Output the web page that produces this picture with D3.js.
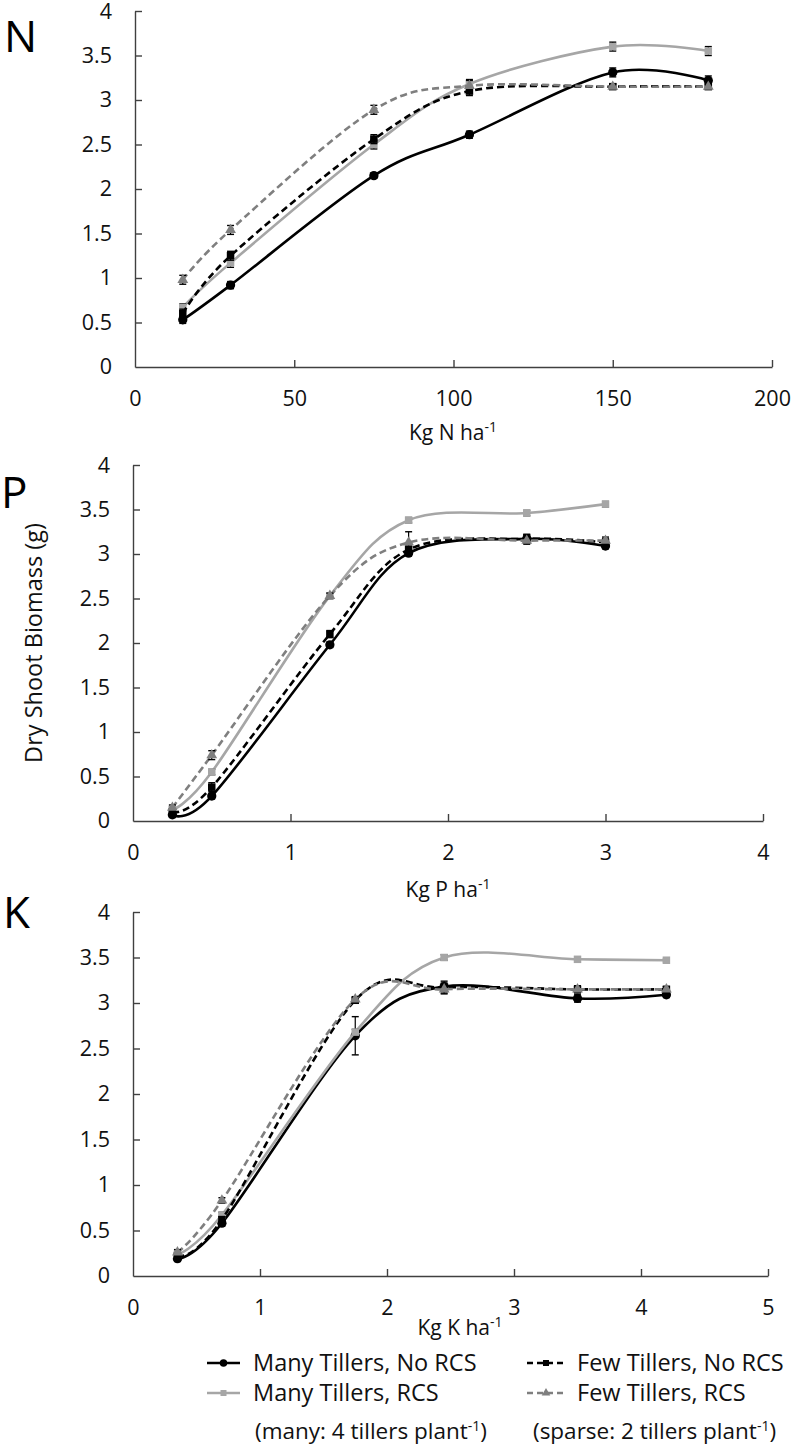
<!DOCTYPE html>
<html>
<head>
<meta charset="utf-8">
<script src="https://cdn.jsdelivr.net/npm/d3@7"></script>
<style>
  body { margin: 0; background: #fff; }
  svg { display: block; font-family: "Open Sans", Lato, sans-serif; }
</style>
</head>
<body>
<svg id="chart" width="793" height="1448"></svg>
<script>
// ---------- DATA ----------
const seriesNames = ["Many Tillers, No RCS", "Many Tillers, RCS", "Few Tillers, No RCS", "Few Tillers, RCS"];

// Panel N
const nX = [15, 30, 75, 105, 150, 180];
const nManyNoRCS = [0.53, 0.92, 2.15, 2.61, 3.31, 3.22];
const nManyRCS   = [0.67, 1.17, 2.50, 3.18, 3.60, 3.55];
const nFewNoRCS  = [0.60, 1.25, 2.56, 3.10, 3.15, 3.15];
const nFewRCS    = [0.98, 1.54, 2.89, 3.16, 3.15, 3.15];
const nErrManyNoRCS = [0.04, 0.04, 0.03, 0.04, 0.05, 0.05];
const nErrManyRCS   = [0.04, 0.05, 0.05, 0.05, 0.05, 0.05];
const nErrFewNoRCS  = [0.05, 0.05, 0.05, 0.05, 0.03, 0.03];
const nErrFewRCS    = [0.05, 0.05, 0.05, 0.06, 0.03, 0.03];

// Panel P
const pX = [0.25, 0.5, 1.25, 1.75, 2.5, 3];
const pManyNoRCS = [0.07, 0.28, 1.98, 3.01, 3.17, 3.09];
const pManyRCS   = [0.13, 0.55, 2.53, 3.38, 3.46, 3.56];
const pFewNoRCS  = [0.10, 0.38, 2.10, 3.05, 3.17, 3.13];
const pFewRCS    = [0.15, 0.74, 2.53, 3.13, 3.15, 3.15];
const pErrManyNoRCS = [0.03, 0.03, 0.03, 0.03, 0.05, 0.03];
const pErrManyRCS   = [0.03, 0.03, 0.03, 0.03, 0.03, 0.03];
const pErrFewNoRCS  = [0.03, 0.05, 0.04, 0.04, 0.05, 0.04];
const pErrFewRCS    = [0.03, 0.05, 0.03, 0.12, 0.04, 0.04];

// Panel K
const kX = [0.35, 0.7, 1.75, 2.45, 3.5, 4.2];
const kManyNoRCS = [0.19, 0.58, 2.64, 3.18, 3.05, 3.09];
const kManyRCS   = [0.24, 0.67, 2.68, 3.50, 3.48, 3.47];
const kFewNoRCS  = [0.22, 0.62, 3.03, 3.17, 3.15, 3.15];
const kFewRCS    = [0.26, 0.83, 3.04, 3.15, 3.15, 3.15];
const kErrManyNoRCS = [0.03, 0.03, 0.21, 0.04, 0.04, 0.03];
const kErrManyRCS   = [0.03, 0.03, 0.03, 0.03, 0.02, 0.02];
const kErrFewNoRCS  = [0.03, 0.03, 0.03, 0.07, 0.04, 0.03];
const kErrFewRCS    = [0.03, 0.03, 0.03, 0.04, 0.03, 0.03];

const yTicks = [0, 0.5, 1, 1.5, 2, 2.5, 3, 3.5, 4];
const nTicks = [0, 50, 100, 150, 200];
const pTicks = [0, 1, 2, 3, 4];
const kTicks = [0, 1, 2, 3, 4, 5];

// ---------- STYLES ----------
const styles = [
  { color: "#000000", dash: null,  marker: "circle" },
  { color: "#a6a6a6", dash: null,  marker: "square" },
  { color: "#000000", dash: "7,4", marker: "square" },
  { color: "#7f7f7f", dash: "7,4", marker: "triangle" }
];

const svg = d3.select("#chart");
const FONT = 21.5;

const panels = [
  { letter: "N", lx: 4, ly: 52, xDomain: [0, 200], xTicks: nTicks, xRange: [135, 772], yRange: [367, 11],
    xs: nX, ys: [nManyNoRCS, nManyRCS, nFewNoRCS, nFewRCS], errs: [nErrManyNoRCS, nErrManyRCS, nErrFewNoRCS, nErrFewRCS],
    title: "Kg N ha", tx: 453, ty: 440 },
  { letter: "P", lx: 1, ly: 508, xDomain: [0, 4], xTicks: pTicks, xRange: [133, 763], yRange: [821, 465],
    xs: pX, ys: [pManyNoRCS, pManyRCS, pFewNoRCS, pFewRCS], errs: [pErrManyNoRCS, pErrManyRCS, pErrFewNoRCS, pErrFewRCS],
    title: "Kg P ha", tx: 448, ty: 897 },
  { letter: "K", lx: 3, ly: 928, xDomain: [0, 5], xTicks: kTicks, xRange: [133, 768], yRange: [1276, 912],
    xs: kX, ys: [kManyNoRCS, kManyRCS, kFewNoRCS, kFewRCS], errs: [kErrManyNoRCS, kErrManyRCS, kErrFewNoRCS, kErrFewRCS],
    title: "Kg K ha", tx: 460, ty: 1335 }
];

function drawMarker(g, type, cx, cy, color, size) {
  if (type === "circle") {
    g.append("circle").attr("cx", cx).attr("cy", cy).attr("r", size * 0.62).attr("fill", color);
  } else if (type === "square") {
    g.append("rect").attr("x", cx - size / 2).attr("y", cy - size / 2).attr("width", size).attr("height", size).attr("fill", color);
  } else {
    const s = d3.symbol().type(d3.symbolTriangle).size(size * size * 0.9);
    g.append("path").attr("transform", `translate(${cx},${cy})`).attr("d", s()).attr("fill", color);
  }
}

panels.forEach(p => {
  const x = d3.scaleLinear().domain(p.xDomain).range(p.xRange);
  const y = d3.scaleLinear().domain([0, 4]).range(p.yRange);
  const g = svg.append("g");

  const yAxis = d3.axisLeft(y).tickValues(yTicks).tickFormat(d3.format("~g"))
    .tickSizeInner(-7).tickSizeOuter(0).tickPadding(23);
  const xAxis = d3.axisBottom(x).tickValues(p.xTicks).tickFormat(d3.format("~g"))
    .tickSizeInner(-7).tickSizeOuter(0).tickPadding(24);

  const ya = g.append("g").attr("transform", `translate(${p.xRange[0]},0)`).call(yAxis);
  const xa = g.append("g").attr("transform", `translate(0,${p.yRange[0]})`).call(xAxis);
  [ya, xa].forEach(a => {
    a.selectAll("path.domain").attr("stroke", "#404040").attr("stroke-width", 1.4);
    a.selectAll(".tick line").attr("stroke", "#404040").attr("stroke-width", 1.4);
    a.selectAll(".tick text").attr("font-size", FONT).attr("fill", "#111").attr("font-family", "'Open Sans', sans-serif");
  });
  ya.selectAll(".tick").filter(d => d === 0).select("line").remove();
  xa.selectAll(".tick").filter(d => d === 0).select("line").remove();
  // keep the top "4" label fully inside the picture
  ya.selectAll(".tick text").filter(d => d === 4).attr("dy", "0.36em");

  g.append("text").attr("x", p.lx).attr("y", p.ly).attr("font-size", 44).attr("fill", "#000").text(p.letter);

  const t = g.append("text").attr("x", p.tx).attr("y", p.ty).attr("text-anchor", "middle")
    .attr("font-size", 21).attr("fill", "#111");
  t.append("tspan").text(p.title);
  t.append("tspan").attr("font-size", 14).attr("dy", -8).text("-1");

  const line = d3.line().x(d => x(d[0])).y(d => y(d[1])).curve(d3.curveCardinal.tension(0));
  p.ys.forEach((vals, si) => {
    const st = styles[si];
    const pts = p.xs.map((xv, i) => [xv, vals[i], p.errs[si][i]]);
    const sg = g.append("g");
    sg.append("path").datum(pts).attr("d", line).attr("fill", "none")
      .attr("stroke", st.color).attr("stroke-width", 2.6)
      .attr("stroke-dasharray", st.dash);
    pts.forEach(d => {
      const cx = x(d[0]), y1 = y(d[1] - d[2]), y2 = y(d[1] + d[2]);
      sg.append("line").attr("x1", cx).attr("x2", cx).attr("y1", y1).attr("y2", y2).attr("stroke", "#000").attr("stroke-width", 1.2);
      sg.append("line").attr("x1", cx - 3.5).attr("x2", cx + 3.5).attr("y1", y1).attr("y2", y1).attr("stroke", "#000").attr("stroke-width", 1.4);
      sg.append("line").attr("x1", cx - 3.5).attr("x2", cx + 3.5).attr("y1", y2).attr("y2", y2).attr("stroke", "#000").attr("stroke-width", 1.4);
    });
    pts.forEach(d => drawMarker(sg, st.marker, x(d[0]), y(d[1]), st.color, 7.5));
  });
});

svg.append("text").attr("transform", "translate(42,643) rotate(-90)").attr("text-anchor", "middle")
  .attr("font-size", 23.5).attr("fill", "#111").text("Dry Shoot Biomass (g)");

// ---------- LEGEND ----------
const legendItems = [
  { si: 0, lx1: 207, lx2: 240, tx: 253, y: 1363 },
  { si: 2, lx1: 527, lx2: 565, tx: 577, y: 1363 },
  { si: 1, lx1: 207, lx2: 240, tx: 253, y: 1393 },
  { si: 3, lx1: 527, lx2: 565, tx: 577, y: 1393 }
];
const lg = svg.append("g");
legendItems.forEach(it => {
  const st = styles[it.si];
  lg.append("line").attr("x1", it.lx1).attr("x2", it.lx2).attr("y1", it.y).attr("y2", it.y)
    .attr("stroke", st.color).attr("stroke-width", 2.6).attr("stroke-dasharray", st.dash ? "6,4" : null);
  drawMarker(lg, st.marker, (it.lx1 + it.lx2) / 2, it.y, st.color, 6);
  lg.append("text").attr("x", it.tx).attr("y", it.y).attr("dy", "0.35em").attr("font-size", 23.5).attr("fill", "#111")
    .text(seriesNames[it.si]);
});
const notes = [
  { x: 255, text: "(many: 4 tillers plant" },
  { x: 533, text: "(sparse: 2 tillers plant" }
];
notes.forEach(n => {
  const t = lg.append("text").attr("x", n.x).attr("y", 1431).attr("dy", "0.35em").attr("font-size", 22.5).attr("fill", "#111");
  t.append("tspan").text(n.text);
  t.append("tspan").attr("font-size", 14).attr("dy", -8).text("-1");
  t.append("tspan").attr("dy", 8).text(")");
});
</script>
</body>
</html>
